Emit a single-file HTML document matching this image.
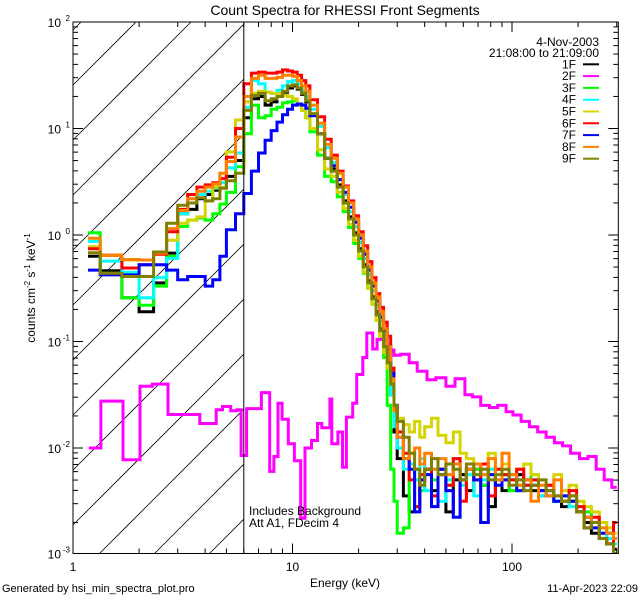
<!DOCTYPE html>
<html><head><meta charset="utf-8"><style>
html,body{margin:0;padding:0;background:#fff;width:640px;height:600px;overflow:hidden}
svg{display:block;font-family:"Liberation Sans",sans-serif}
</style></head><body>
<svg id="chart" width="640" height="600" viewBox="0 0 640 600" xmlns="http://www.w3.org/2000/svg">
<rect x="0" y="0" width="640" height="600" fill="#fff"/>
<defs><clipPath id="plotClip"><rect x="73" y="22" width="545.3" height="531.5"/></clipPath></defs>
<text x="345" y="15" font-size="14" text-anchor="middle">Count Spectra for RHESSI Front Segments</text>
<g id="hatch"></g>
<g id="series" clip-path="url(#plotClip)"></g>
<g id="axes"></g>
<text x="345" y="587" font-size="12" text-anchor="middle">Energy (keV)</text>
<text transform="translate(35,288) rotate(-90)" font-size="12" text-anchor="middle">counts cm<tspan font-size="8" dy="-5">-2</tspan><tspan dy="5"> s</tspan><tspan font-size="8" dy="-5">-1</tspan><tspan dy="5"> keV</tspan><tspan font-size="8" dy="-5">-1</tspan></text>
<text x="249" y="515" font-size="12">Includes Background</text>
<text x="249" y="527" font-size="12">Att A1, FDecim 4</text>
<text x="599" y="46" font-size="12" text-anchor="end">4-Nov-2003</text>
<text x="599" y="57" font-size="12" text-anchor="end">21:08:00 to 21:09:00</text>
<g id="legend"></g>
<text x="2" y="592" font-size="11">Generated by hsi_min_spectra_plot.pro</text>
<text x="638" y="592" font-size="11" text-anchor="end">11-Apr-2023 22:09</text>
</svg>
<script>
const energyEdges = [1.17,1.33,1.67,2,2.33,2.67,3,3.33,3.67,4,4.33,4.67,5,5.5,6,
6.5,7,7.5,8,8.5,9,9.5,10,10.5,11,11.5,12,13,14,15,
16,17,18,19,20,21,22,23,24,25,26,27,28,29,30,
32,34,36,38,40,43,46,50,54,58,62,67,72,78,84,90,97,105,113,122,132,143,155,168,182,197,213,230,250,270,290,300];
const log1F = [-0.2,-0.335,-0.59,-0.72,-0.45,-0.17,0.20,0.24,0.34,0.38,0.42,0.44,0.55,0.70,
1.10,1.28,1.30,1.22,1.25,1.30,1.34,1.38,1.40,1.37,1.32,1.25,1.13,0.95,0.72,
0.62,0.47,0.32,0.17,0.02,-0.13,-0.28,-0.43,-0.58,-0.72,-0.88,-1.05,-1.2,-1.5,-1.85,
-2.1,-2.45,-2.6,-2.55,-2.3,-2.2,-2.4,-2.25,-2.6,-2.3,-2.25,-2.4,-2.2,-2.35,-2.55,-2.3,-2.4,-2.3,-2.25,-2.35,-2.4,-2.45,-2.4,-2.5,-2.55,-2.5,-2.6,-2.7,-2.8,-2.85,-2.9,-2.95];
const log3F = [0.022,-0.36,-0.59,-0.66,-0.48,-0.2,0.08,0.14,0.16,0.14,0.20,0.29,0.40,0.64,
0.95,1.22,1.10,1.12,1.18,1.20,1.24,1.25,1.26,1.22,1.17,1.10,0.97,0.75,0.55,
0.5,0.36,0.22,0.07,-0.08,-0.22,-0.36,-0.5,-0.65,-0.8,-0.95,-1.15,-1.6,-2.2,-2.5,
-2.8,-2.75,-2.3,-2.2,-2.4,-2.25,-2.3,-2.2,-2.35,-2.1,-2.3,-2.25,-2.2,-2.35,-2.2,-2.3,-2.25,-2.4,-2.35,-2.3,-2.25,-2.4,-2.35,-2.5,-2.45,-2.5,-2.55,-2.6,-2.7,-2.75,-2.85,-2.9];
const log4F = [-0.06,-0.245,-0.35,-0.59,-0.40,-0.22,0.2,0.30,0.38,0.41,0.44,0.49,0.63,0.77,
1.20,1.45,1.42,1.34,1.33,1.36,1.40,1.44,1.45,1.42,1.36,1.30,1.18,1.02,0.82,
0.68,0.52,0.38,0.22,0.08,-0.07,-0.22,-0.37,-0.52,-0.66,-0.8,-0.95,-1.15,-1.5,-1.8,
-2.0,-2.2,-2.15,-2.3,-2.1,-2.4,-2.2,-2.5,-2.3,-2.2,-2.35,-2.25,-2.45,-2.3,-2.2,-2.35,-2.25,-2.3,-2.4,-2.35,-2.3,-2.45,-2.35,-2.5,-2.45,-2.55,-2.6,-2.65,-2.75,-2.8,-2.85,-2.9];
const log5F = [-0.11,-0.19,-0.235,-0.235,-0.16,-0.05,0.11,0.14,0.17,0.32,0.45,0.58,0.78,1.08,
1.25,1.33,1.35,1.34,1.33,1.33,1.31,1.30,1.28,1.22,1.17,1.10,1.0,0.8,0.62,
0.55,0.4,0.25,0.1,-0.05,-0.2,-0.35,-0.5,-0.65,-0.8,-0.95,-1.1,-1.25,-1.4,-1.6,
-1.72,-1.78,-1.85,-1.75,-1.9,-1.8,-1.72,-1.88,-1.95,-1.85,-2.05,-2.1,-2.15,-2.25,-2.05,-2.2,-2.15,-2.3,-2.2,-2.15,-2.25,-2.3,-2.35,-2.25,-2.4,-2.35,-2.5,-2.55,-2.6,-2.7,-2.75,-2.8];
const log6F = [-0.13,-0.19,-0.31,-0.28,-0.18,0.03,0.24,0.38,0.45,0.47,0.49,0.53,0.73,1.0,
1.42,1.52,1.53,1.52,1.52,1.53,1.55,1.54,1.53,1.50,1.45,1.40,1.27,1.11,0.90,
0.75,0.6,0.46,0.32,0.18,0.03,-0.1,-0.25,-0.4,-0.55,-0.68,-0.82,-0.95,-1.25,-1.6,
-1.85,-2.05,-2.3,-2.55,-2.25,-2.2,-2.45,-2.2,-2.35,-2.1,-2.5,-2.2,-2.3,-2.15,-2.45,-2.2,-2.25,-2.3,-2.2,-2.35,-2.3,-2.4,-2.35,-2.45,-2.5,-2.4,-2.55,-2.75,-2.65,-2.85,-2.9,-2.7];
const log7F = [-0.33,-0.375,-0.375,-0.28,-0.28,-0.33,-0.42,-0.39,-0.39,-0.48,-0.42,-0.2,0.05,0.2,
0.39,0.60,0.77,0.89,0.98,1.06,1.13,1.18,1.22,1.23,1.22,1.19,1.12,0.95,0.72,
0.65,0.52,0.4,0.26,0.12,-0.03,-0.18,-0.33,-0.48,-0.62,-0.77,-0.9,-1.05,-1.3,-1.6,
-1.9,-2.1,-2.2,-2.6,-2.3,-2.25,-2.55,-2.2,-2.4,-2.65,-2.3,-2.2,-2.3,-2.7,-2.25,-2.35,-2.3,-2.25,-2.4,-2.3,-2.35,-2.4,-2.45,-2.5,-2.45,-2.5,-2.6,-2.65,-2.75,-2.8,-2.8,-2.85];
const log8F = [-0.03,-0.19,-0.23,-0.235,-0.17,0.06,0.23,0.34,0.41,0.45,0.48,0.58,0.69,0.92,
1.30,1.47,1.50,1.47,1.47,1.48,1.50,1.50,1.49,1.45,1.40,1.35,1.22,1.05,0.85,
0.72,0.58,0.45,0.30,0.15,0.0,-0.15,-0.3,-0.45,-0.58,-0.72,-0.88,-1.05,-1.35,-1.65,
-1.9,-2.1,-2.05,-2.0,-2.15,-2.05,-2.2,-2.1,-2.25,-2.15,-2.3,-2.2,-2.15,-2.25,-2.1,-2.3,-2.05,-2.25,-2.35,-2.3,-2.5,-2.35,-2.45,-2.3,-2.5,-2.45,-2.6,-2.65,-2.7,-2.75,-2.8,-2.85];
const log9F = [-0.166,-0.36,-0.39,-0.39,-0.16,0.11,0.28,0.30,0.35,0.32,0.34,0.44,0.51,0.58,
1.17,1.31,1.33,1.26,1.28,1.30,1.35,1.40,1.41,1.38,1.33,1.26,1.14,0.95,0.72,
0.6,0.45,0.3,0.15,0.0,-0.15,-0.3,-0.45,-0.6,-0.75,-0.9,-1.05,-1.2,-1.4,-1.6,
-1.75,-1.9,-2.05,-2.2,-2.35,-2.2,-2.1,-2.25,-2.15,-2.2,-2.3,-2.15,-2.25,-2.2,-2.3,-2.25,-2.2,-2.35,-2.3,-2.4,-2.35,-2.3,-2.4,-2.45,-2.5,-2.45,-2.6,-2.75,-2.7,-2.85,-2.9,-3.0];
const energyEdges2F = [1.18,1.34,1.69,2.02,2.30,2.71,3.78,4.49,4.80,5.23,5.59,5.83,6.18,7.22,7.87,8.23,8.59,8.97,9.57,10.2,10.9,11.4,12.2,13.0,13.6,14.8,15.1,16.1,16.9,17.6,18.8,19.6,20.9,21.8,23.2,24.3,27.0,
29,31,34,37,41,45,50,55,61,66,72,79,86,94,101,110,120,131,143,156,170,185,203,222,242,263,285,300];
const log2F = [-2.0,-1.56,-2.11,-1.42,-1.40,-1.685,-1.77,-1.64,-1.61,-1.65,-1.64,-2.07,-1.63,-1.48,-2.22,-2.08,-1.58,-1.73,-1.96,-2.12,-2.66,-2.0,-1.93,-1.77,-1.81,-1.54,-1.96,-1.85,-2.18,-1.71,-1.58,-1.31,-1.15,-0.92,-1.07,-0.98,
-1.08,-1.13,-1.12,-1.2,-1.28,-1.36,-1.34,-1.42,-1.35,-1.5,-1.52,-1.6,-1.62,-1.6,-1.66,-1.69,-1.75,-1.8,-1.85,-1.9,-1.95,-1.98,-2.05,-2.1,-2.08,-2.2,-2.3,-2.37];
const seriesNames = ["1F","2F","3F","4F","5F","6F","7F","8F","9F"];
const seriesColors = ["#000000","#ff00ff","#00ff00","#00ffff","#d4d400","#ff0000","#0000ff","#ff8000","#808000"];
const yTickExponents = [-3,-2,-1,0,1,2];
const xTickLabels = ["1","10","100"];
const xTickValues = [1,10,100];

const NS="http://www.w3.org/2000/svg";
const X0=73, XDEC=219.5, Y0=22, YDEC=106.5, XR=618.3, YB=553.5;
function xs(e){return X0+XDEC*Math.log10(e);}
function ys(l){return Math.max(Y0, Math.min(YB, Y0+(2-l)*YDEC));}
function mk(tag,attrs,parent){const el=document.createElementNS(NS,tag);for(const k in attrs)el.setAttribute(k,attrs[k]);parent.appendChild(el);return el;}

const hatch=document.getElementById('hatch');
const HX1=xs(6);
for(let k=-8;k<16;k++){
  const c=85+55*k;
  const xa=Math.max(X0, X0+c-YB), xb=Math.min(HX1, X0+c-Y0);
  if(xb<=xa) continue;
  const ln=mk('line',{x1:xa,y1:c-(xa-X0),x2:xb,y2:c-(xb-X0),stroke:'#000','stroke-width':0.8},hatch);
  
  
}

const seriesLogs=[log1F,log2F,log3F,log4F,log5F,log6F,log7F,log8F,log9F];
const sg=document.getElementById('series');
seriesLogs.forEach((vals,i)=>{
  const edges = (i===1)?energyEdges2F:energyEdges;
  let d='';
  for(let j=0;j<vals.length;j++){
    const y=ys(vals[j]);
    const xa=xs(edges[j]), xb=Math.min(XR, xs(edges[j+1]));
    d+=(j===0?'M':'L')+xa.toFixed(1)+','+y.toFixed(1)+'L'+xb.toFixed(1)+','+y.toFixed(1);
  }
  const p=mk('path',{d:d,fill:'none',stroke:seriesColors[i],'stroke-width':3,'stroke-linejoin':'miter'},sg);
  
  
});

const ax=document.getElementById('axes');
const frame=mk('rect',{x:X0,y:Y0,width:XR-X0,height:YB-Y0,fill:'none',stroke:'#000','stroke-width':1},ax);


const vline=mk('line',{x1:xs(6),y1:Y0,x2:xs(6),y2:YB,stroke:'#000','stroke-width':1},ax);


for(let dec=1;dec<=100;dec*=10){
  for(let m=1;m<=9;m++){
    const e=dec*m; if(e>300)break;
    const x=xs(e); const len=(m===1)?10:5;
    const t1=mk('line',{x1:x,y1:YB,x2:x,y2:YB-len,stroke:'#000','stroke-width':1},ax);
    
    
    const t2=mk('line',{x1:x,y1:Y0,x2:x,y2:Y0+len,stroke:'#000','stroke-width':1},ax);
    
    
  }
}
xTickValues.forEach((v,i)=>{
  const t=mk('text',{x:xs(v),y:571,'font-size':12,'text-anchor':'middle'},ax);
  t.textContent=xTickLabels[i];
  
  
});
yTickExponents.forEach(ex=>{
  for(let m=1;m<=9;m++){
    if(ex===2&&m>1)break;
    const y=ys(ex+Math.log10(m)); const len=(m===1)?10:5;
    const t1=mk('line',{x1:X0,y1:y,x2:X0+len,y2:y,stroke:'#000','stroke-width':1},ax);
    
    
    const t2=mk('line',{x1:XR,y1:y,x2:XR-len,y2:y,stroke:'#000','stroke-width':1},ax);
    
    
  }
  const t=mk('text',{x:X0-12,y:ys(ex)+5,'font-size':12,'text-anchor':'end'},ax);
  
  
  t.textContent='10';
  const sup=mk('tspan',{x:X0-3,y:ys(ex)-1,'font-size':8,'text-anchor':'end'},t);
  sup.textContent=String(ex);
});

const lg=document.getElementById('legend');
seriesNames.forEach((n,i)=>{
  const y=64.3+i*11.8;
  const t=mk('text',{x:576,y:y+4,'font-size':12,'text-anchor':'end'},lg);
  t.textContent=n;
  
  
  const l=mk('line',{x1:583,y1:y,x2:599,y2:y,stroke:seriesColors[i],'stroke-width':2},lg);
  
  
});
</script>
</body></html>
